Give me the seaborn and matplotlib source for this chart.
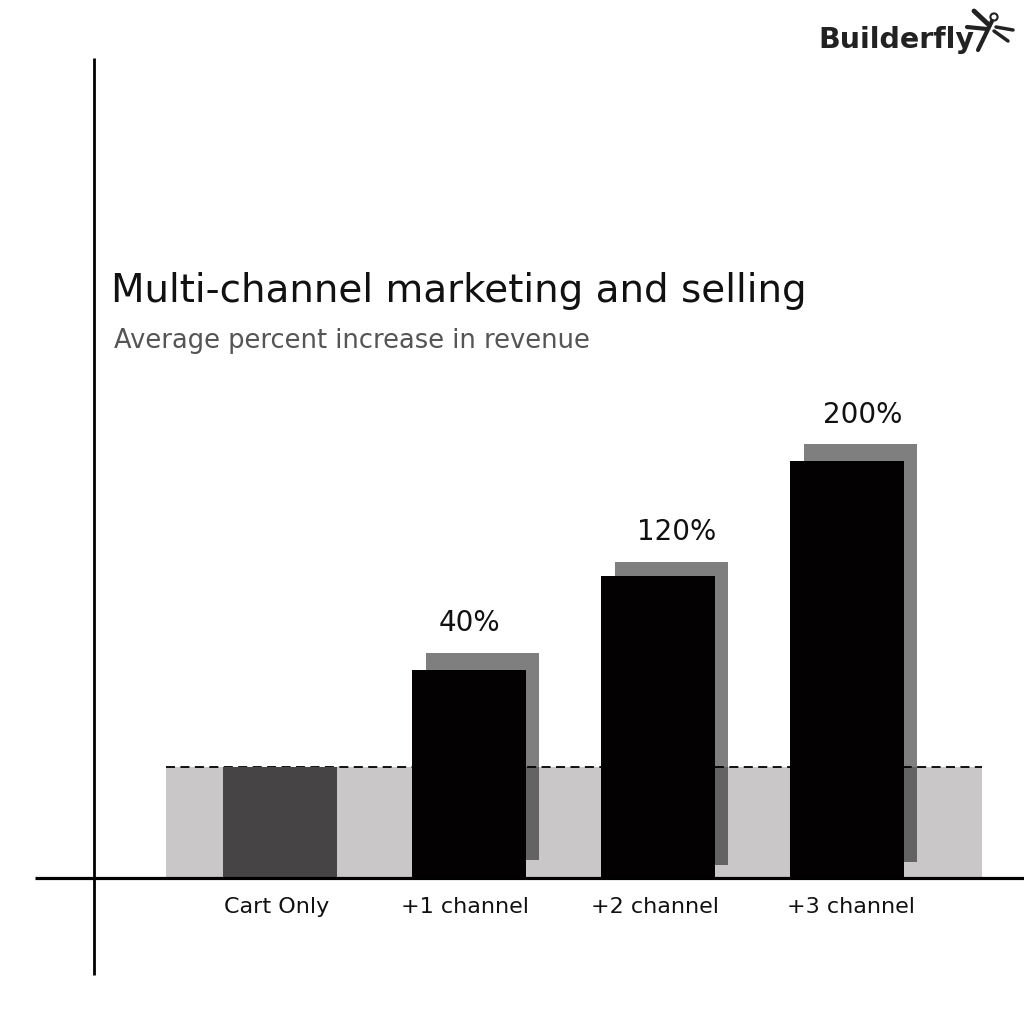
import matplotlib.pyplot as plt
import pandas as pd
import seaborn as sns
from matplotlib.lines import Line2D
from matplotlib.patches import Circle

# data
categories = ['Cart Only', '+1 channel', '+2 channel', '+3 channel']
bar_height = [1.0, 1.87, 2.72, 3.76]          # drawn height, Cart Only = 1
shadow_top = [None, 2.03, 2.85, 3.91]
shadow_bottom = [None, 0.16, 0.12, 0.14]
value_labels = ['', '40%', '120%', '200%']
label_shift = [0, 0.0, 0.10, 0.085]
bar_colors = ['#474445', '#030102', '#030102', '#030102']

df = pd.DataFrame({'category': categories, 'height': bar_height})

sns.set_style('white')
plt.rcParams['font.family'] = ['DejaVu Sans']

fig = plt.figure(figsize=(10.24, 10.24), dpi=100)
ax = fig.add_axes([0, 0, 1, 1])

# pixel layout: category 0 at x=280px, step 189px; baseline y=878px, 111px per unit
px_x = lambda p: (p - 280) / 189
px_y = lambda p: (878 - p) / 111

# gray band at the Cart Only level
ax.fill_between([px_x(166), px_x(982)], 0, bar_height[0], color='#c9c7c8', lw=0, zorder=1)
ax.plot([px_x(166), px_x(982)], [bar_height[0]] * 2, color='black', lw=1.3,
        ls=(0, (5, 3)), zorder=3)

# shadows behind the channel bars
for i, (top, bot) in enumerate(zip(shadow_top, shadow_bottom)):
    if top is None:
        continue
    ax.bar(i + 0.07, top - bot, bottom=bot, width=0.6, color='black', alpha=0.5,
           lw=0, zorder=2)

sns.barplot(data=df, x='category', y='height', hue='category', palette=bar_colors,
            width=0.6, legend=False, ax=ax, zorder=4, linewidth=0, saturation=1)
ax.set_xlim(px_x(0), px_x(1024))
ax.set_ylim(px_y(1024), px_y(0))
ax.axis('off')

for i, lab in enumerate(value_labels):
    if lab:
        ax.annotate(lab, (i + label_shift[i], shadow_top[i]), xytext=(0, 11),
                    textcoords='offset points', ha='center', va='bottom',
                    fontsize=20, color='#111111')

tick_shift = [-0.02, -0.02, -0.015, 0.02]
for i, cat in enumerate(categories):
    ax.text(i + tick_shift[i], px_y(907), cat, ha='center', va='center', fontsize=16,
            color='#111111')

# axis lines
ax.plot([px_x(35), px_x(1024)], [0, 0], color='black', lw=2.3, zorder=5,
        solid_capstyle='butt')
ax.plot([px_x(94), px_x(94)], [px_y(58), px_y(975)], color='black', lw=2.0, zorder=5,
        solid_capstyle='butt')

fig.text(111 / 1024, 1 - 291 / 1024, 'Multi-channel marketing and selling',
         fontsize=28, color='#111111', va='center', ha='left')
fig.text(114 / 1024, 1 - 341 / 1024, 'Average percent increase in revenue',
         fontsize=18.5, color='#555555', va='center', ha='left')

# logo
fig.text(818 / 1024, 1 - 40 / 1024, 'Builderfly', fontsize=20.5, fontweight='bold',
         color='#222222', va='center', ha='left')
fx = lambda p: p / 1024
fy = lambda p: 1 - p / 1024
for (x0, y0), (x1, y1), w in [((992, 21), (978, 50), 3.0), ((989, 25), (974, 11), 3.5),
                               ((987, 29), (967, 27), 3.0), ((996, 27), (1013, 30), 2.5),
                               ((994, 31), (1008, 41), 2.5)]:
    fig.add_artist(Line2D([fx(x0), fx(x1)], [fy(y0), fy(y1)], color='#222222', lw=w,
                          solid_capstyle='round'))
fig.add_artist(Circle((fx(994), fy(17)), 0.0035, fill=False, ec='#222222', lw=1.5,
                      transform=fig.transFigure))

fig.savefig('out.png', dpi=100)
